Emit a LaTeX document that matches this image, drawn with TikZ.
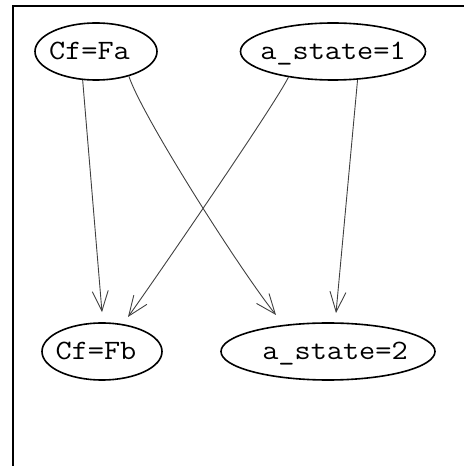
\documentclass[tikz,border=0pt]{standalone}
\usetikzlibrary{arrows.meta,shapes.geometric}
% typewriter label, widened a little, with its centre moved by #1
\newcommand{\statelabel}[2]{\makebox[0pt]{\hspace*{#1}\scalebox{1.12}[1]{#2}}}
\begin{document}
\begin{tikzpicture}[x=1pt,y=1pt,
  state/.style={ellipse, draw, line width=1.6pt, inner sep=0pt,
    minimum height=57pt, font=\ttfamily\fontsize{28}{32}\selectfont,
    text height=17pt, text depth=0pt},
  edge/.style={draw=black!75, line width=0.9pt,
    -{Straight Barb[length=20pt,width=16pt]}}]
  \useasboundingbox (0,0) rectangle (464,466);

  % frame (top and left sides)
  \draw[line width=1.5pt] (13,0) -- (13,460) -- (464,460);

  % states
  \node[state, minimum width=122pt] (cfa) at (96,414.5) {\statelabel{-13pt}{Cf=Fa}};
  \node[state, minimum width=185pt] (as1) at (333,414.5) {\statelabel{0pt}{a\_state=1}};
  \node[state, minimum width=120pt] (cfb) at (102,114.5) {\statelabel{-12pt}{Cf=Fb}};
  \node[state, minimum width=214pt] (as2) at (328,114.5) {\statelabel{14pt}{a\_state=2}};

  % end points of the arrows, a little above the targets
  \coordinate (tcfb1) at ([yshift=10pt]cfb.north);
  \coordinate (tcfb2) at (128,149);
  \coordinate (tas21) at (276,151);
  \coordinate (tas22) at (336,153);

  % transitions
  \draw[edge] (cfa.-115) -- (tcfb1);
  \draw[edge] (cfa.-37) .. controls (142,350) and (240,196) .. (tas21);
  \draw[edge] (as1.-150) .. controls (274,360) and (158,191) .. (tcfb2);
  \draw[edge] (as1.-49) -- (tas22);
\end{tikzpicture}
\end{document}
